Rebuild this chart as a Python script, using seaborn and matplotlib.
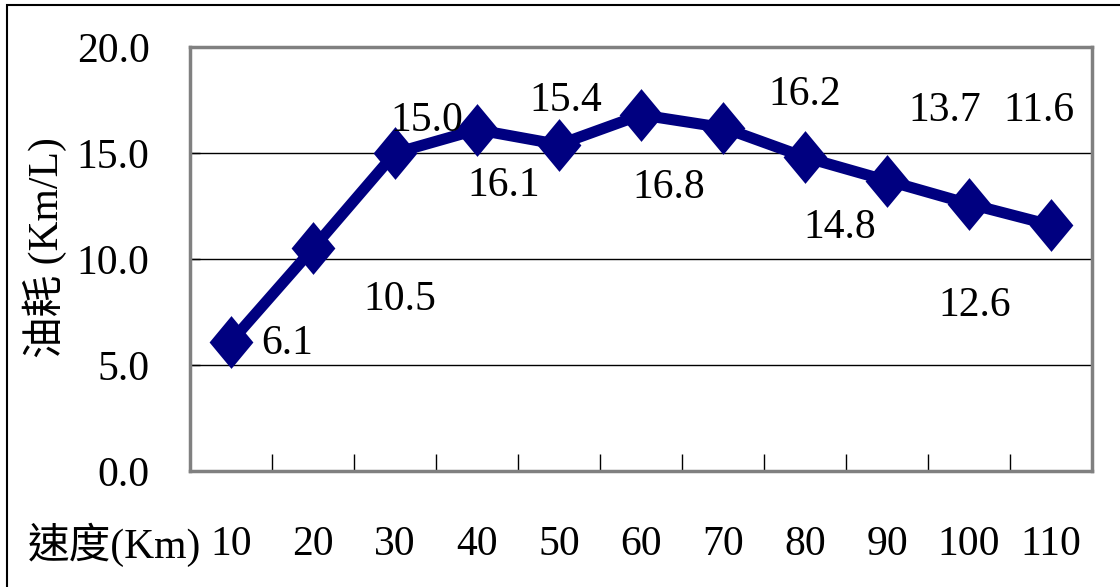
import numpy as np
import matplotlib
matplotlib.use("Agg")
import matplotlib.pyplot as plt
import seaborn as sns
from matplotlib.path import Path
from matplotlib.patches import Rectangle

speed_labels = ["10", "20", "30", "40", "50", "60", "70", "80", "90", "100", "110"]
fuel = [6.1, 10.5, 15.0, 16.1, 15.4, 16.8, 16.2, 14.8, 13.7, 12.6, 11.6]
y_ticks = [0, 5, 10, 15, 20]
# label offsets (pixels) relative to each marker, as placed in the original chart
label_dx = [56, 87, 32, 27, 7, 28, 82, 35, 58, 6, -12]
label_dy = [-2, -51, 32, -56, 44, -73, 33, -71, 70, -102, 114]

sns.set_style("white")
fonts = ["Liberation Serif", "Noto Sans CJK TC", "DejaVu Sans"]
plt.rcParams["font.family"] = fonts
plt.rcParams["text.color"] = "black"
plt.rcParams["axes.labelcolor"] = "black"
plt.rcParams["xtick.color"] = "black"
plt.rcParams["ytick.color"] = "black"
fs = 30

fig = plt.figure(figsize=(11.2, 5.87), dpi=100)
ax = fig.add_axes([190 / 1120, 1 - 471 / 587, 902 / 1120, 424 / 587])

# tall diamond marker
diamond = Path([(0, 1), (0.83, 0), (0, -1), (-0.83, 0), (0, 1)],
               [Path.MOVETO, Path.LINETO, Path.LINETO, Path.LINETO, Path.CLOSEPOLY])

x_pos = list(range(len(speed_labels)))
sns.lineplot(x=x_pos, y=fuel, sort=False, ax=ax, color="#000080", linewidth=8,
             marker=diamond, markersize=38, markeredgewidth=0, zorder=3)

for i, v in enumerate(fuel):
    ax.annotate(f"{v:.1f}", xy=(i, v), xytext=(label_dx[i], label_dy[i]),
                textcoords="offset pixels", ha="center", va="center",
                fontsize=fs, color="black", zorder=4)

ax.set_xlim(-0.5, 10.5)
ax.set_ylim(0, 20)
ax.set_yticks(y_ticks)
ax.set_yticklabels([f"{t:.1f}" for t in y_ticks])
ax.set_xticks(x_pos)
ax.set_xticklabels(speed_labels)
ax.set_xticks(np.arange(0.5, 11, 1), minor=True)

ax.grid(axis="y", color="black", linewidth=1.0)
ax.grid(axis="x", visible=False)
for sp in ax.spines.values():
    sp.set_color("#808080")
    sp.set_linewidth(2.5)
    sp.set_visible(True)

ax.tick_params(axis="y", which="major", direction="in", length=7, width=1,
               color="black", pad=29, labelsize=fs, left=True)
ax.tick_params(axis="x", which="major", length=0, pad=39, labelsize=fs)
ax.tick_params(axis="x", which="minor", direction="in", length=12, width=1,
               color="black", bottom=True)

ax.set_ylabel("油耗 (Km/L)", fontsize=fs)
ax.yaxis.set_label_coords(-0.161, 0.526)
ax.yaxis.label.set_va("center")
ax.set_xlabel("速度(Km)", fontsize=fs)
ax.xaxis.set_label_coords(0.012, -0.175)
ax.xaxis.label.set_ha("right")
ax.xaxis.label.set_va("center")

fig.patches.append(Rectangle((7 / 1120, -0.1), 1.2, 1 - 5 / 587 + 0.1,
                             transform=fig.transFigure, fill=False,
                             edgecolor="black", linewidth=1.5))

fig.savefig("out.png", dpi=100)
